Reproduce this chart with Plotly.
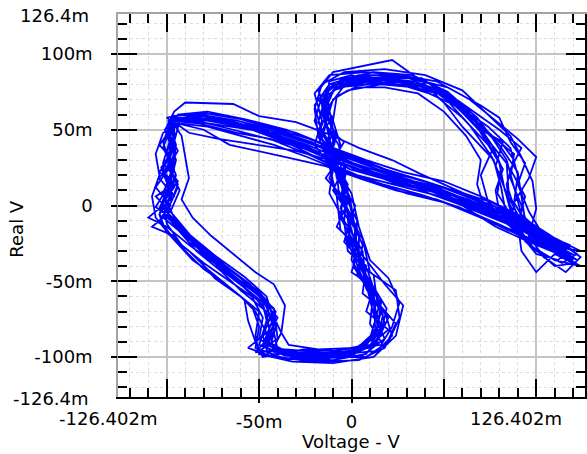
import plotly.graph_objects as go

# ---- data (mV): traced cycles of the X-Y curve ----
loop01 = [(-97,57),(-81,59),(-61,54),(-39,46),(-19,36),(-1,24),(19,17),(41,11),(61,2),(81,-9),(99,-20),(116,-30),(101,-19),(86,-3),(82,15),(76,32),(64,53),(49,73),(29,82),(8,83),(-9,78),(-15,61),(-11,39),(-5,14),(-1,-12),(5,-37),(12,-61),(13,-85),(1,-96),(-19,-99),(-40,-95),(-43,-78),(-47,-61),(-60,-48),(-72,-37),(-85,-23),(-96,-8),(-101,5),(-97,22),(-95,40)]
loop02 = [(-99,55),(-84,56),(-64,50),(-42,43),(-22,33),(-3,22),(17,14),(38,7),(58,-1),(79,-12),(97,-22),(113,-28),(121,-33),(104,-22),(90,-8),(85,10),(84,28),(72,46),(58,66),(40,79),(18,85),(-2,82),(-14,72),(-18,55),(-9,34),(-7,10),(3,-15),(1,-40),(10,-58),(16,-80),(6,-95),(-12,-101),(-34,-97),(-47,-89),(-41,-70),(-50,-57),(-63,-45),(-78,-30),(-92,-15),(-104,-2),(-99,12),(-103,25),(-96,38),(-99,48)]
loop03 = [(-94,60),(-78,62),(-58,57),(-35,50),(-15,40),(4,30),(24,21),(45,14),(66,4),(86,-7),(103,-18),(117,-27),(106,-21),(92,-6),(88,12),(84,30),(76,45),(68,58),(52,75),(33,86),(12,88),(-6,83),(-13,70),(-10,50),(-14,33),(-4,12),(-6,-8),(4,-30),(8,-55),(17,-72),(14,-90),(0,-99),(-24,-100),(-43,-96),(-38,-84),(-45,-66),(-55,-52),(-66,-42),(-82,-27),(-92,-14),(-99,-2),(-94,14),(-100,30),(-96,47)]
loop04 = [(-96,58),(-79,57),(-57,52),(-36,43),(-17,33),(2,25),(23,15),(44,9),(64,-1),(84,-11),(102,-23),(119,-34),(98,-20),(84,-8),(81,12),(77,30),(60,52),(50,68),(38,82),(22,96),(6,92),(-10,88),(-18,76),(-13,60),(-17,42),(-8,24),(-3,2),(-1,-20),(9,-44),(15,-66),(10,-88),(-3,-98),(-22,-103),(-45,-99),(-48,-86),(-44,-74),(-53,-59),(-70,-43),(-86,-24),(-97,-9),(-106,-1),(-98,15),(-95,30),(-99,45)]
loop05 = [(-97,55),(-80,50),(-66,40),(-50,36),(-32,31),(-14,26),(4,18),(24,10),(46,4),(66,-5),(86,-16),(104,-26),(120,-36),(112,-30),(96,-15),(88,2),(90,20),(86,38),(74,52),(62,62),(46,76),(26,82),(6,80),(-12,80),(-20,66),(-16,48),(-8,30),(-12,18),(-2,-4),(6,-26),(3,-46),(14,-60),(18,-78),(9,-94),(-8,-98),(-30,-97),(-50,-96),(-40,-88),(-42,-68),(-55,-54),(-72,-40),(-88,-26),(-100,-14),(-110,-8),(-96,6),(-104,18),(-96,33),(-101,50)]
loop06 = [(-100,52),(-96,62),(-90,68),(-64,67),(-50,59),(-30,55),(-12,47),(4,38),(22,30),(37,21),(54,12),(72,2),(90,-12),(108,-25),(116,-32),(103,-24),(94,-10),(92,6),(90,22),(80,40),(70,52),(56,68),(42,78),(20,80),(0,86),(-12,82),(-14,64),(-9,46),(-11,30),(-1,6),(2,-16),(0,-36),(8,-52),(12,-72),(18,-88),(6,-99),(-16,-101),(-36,-99),(-50,-92),(-46,-76),(-48,-64),(-62,-50),(-76,-34),(-90,-18),(-102,-6),(-97,8),(-101,22),(-94,36),(-98,46)]
loop07 = [(-95,57),(-78,56),(-56,51),(-34,41),(-16,30),(3,20),(25,13),(48,6),(68,-4),(88,-14),(106,-24),(121,-38),(110,-40),(97,-26),(88,-10),(79,8),(81,26),(76,40),(67,56),(56,70),(36,80),(14,83),(-4,79),(-12,66),(-17,50),(-10,36),(-8,18),(2,0),(-3,-20),(7,-42),(10,-60),(20,-74),(13,-92),(-4,-100),(-26,-98),(-44,-93),(-41,-80),(-46,-60),(-58,-47),(-74,-33),(-87,-20),(-98,-4),(-93,10),(-99,26),(-96,44)]
loop08 = [(-98,56),(-82,54),(-62,48),(-44,44),(-24,37),(-6,30),(12,22),(32,15),(52,8),(72,-3),(92,-14),(110,-26),(122,-36),(108,-28),(96,-16),(92,0),(86,18),(88,34),(78,44),(64,60),(52,72),(34,78),(16,80),(-2,76),(-10,70),(-14,54),(-7,40),(-3,22),(-6,4),(4,-18),(4,-40),(12,-56),(10,-78),(16,-90),(4,-96),(-14,-97),(-36,-95),(-52,-97),(-44,-86),(-46,-70),(-60,-56),(-70,-44),(-84,-30),(-94,-16),(-104,-6),(-99,4),(-95,20),(-100,36),(-94,50)]
loop09 = [(-97,59),(-84,60),(-66,56),(-46,49),(-26,40),(-8,29),(10,21),(30,14),(50,7),(70,-2),(90,-13),(106,-22),(118,-29),(100,-22),(90,-6),(84,8),(78,26),(82,42),(70,50),(62,64),(44,80),(24,86),(4,86),(-12,80),(-16,68),(-11,52),(-14,38),(-4,20),(0,-4),(-2,-24),(6,-48),(16,-64),(14,-82),(4,-93),(-18,-98),(-40,-98),(-48,-92),(-40,-74),(-50,-60),(-64,-46),(-80,-30),(-92,-18),(-100,-4),(-94,12),(-99,28),(-95,46)]
loop10 = [(-93,56),(-76,57),(-56,53),(-36,47),(-14,38),(6,28),(26,18),(46,12),(66,2),(86,-8),(104,-20),(114,-24),(122,-32),(114,-38),(100,-30),(90,-16),(86,-2),(84,14),(88,30),(82,40),(72,50),(64,60),(54,70),(38,84),(18,84),(-2,84),(-14,76),(-13,58),(-16,44),(-6,28),(-4,8),(3,-10),(2,-34),(10,-50),(19,-68),(16,-84),(8,-98),(-10,-102),(-30,-101),(-46,-94),(-42,-82),(-44,-66),(-54,-56),(-68,-44),(-82,-30),(-94,-12),(-103,0),(-96,12),(-102,24),(-97,38),(-100,52)]
loop11 = [(-96,57),(-82,55),(-60,51),(-38,47),(-18,39),(1,28),(21,20),(43,12),(63,4),(83,-6),(101,-17),(117,-28),(104,-26),(92,-12),(74,2),(70,20),(76,36),(68,52),(56,66),(42,74),(26,80),(6,82),(-10,76),(-16,60),(-10,44),(-12,28),(-2,10),(-4,-10),(6,-30),(8,-52),(16,-70),(12,-88),(-2,-97),(-22,-99),(-42,-97),(-44,-84),(-48,-66),(-60,-52),(-72,-38),(-88,-24),(-98,-10),(-101,4),(-96,18),(-99,32),(-96,48)]
loop12 = [(-97,56),(-80,57),(-58,52),(-36,44),(-16,34),(2,24),(22,16),(44,10),(64,0),(84,-10),(102,-22),(119,-32),(102,-26),(89,-10),(83,10),(80,28),(72,46),(58,64),(42,78),(22,84),(2,85),(-12,78),(-15,62),(-8,46),(-12,30),(-3,12),(1,-10),(4,-34),(12,-58),(14,-80),(6,-94),(-14,-99),(-36,-97),(-46,-92),(-42,-78),(-48,-62),(-62,-48),(-76,-35),(-90,-20),(-99,-6),(-102,8),(-97,24),(-96,42),(-98,56)]
loop13 = [(-100,58),(-86,61),(-70,60),(-50,54),(-30,48),(-10,38),(8,30),(28,22),(50,16),(70,6),(90,-6),(108,-20),(124,-34),(116,-44),(104,-34),(96,-20),(100,-2),(98,16),(92,32),(86,46),(74,60),(60,76),(40,86),(18,90),(-4,88),(-16,80),(-20,64),(-18,46),(-12,26),(-8,6),(-6,-16),(8,-36),(18,-52),(28,-66),(24,-86),(12,-100),(-10,-104),(-32,-103),(-50,-98),(-52,-86),(-50,-70),(-62,-58),(-72,-48),(-86,-36),(-98,-20),(-106,-8),(-108,6),(-104,20),(-106,34),(-102,48)]
loop14 = [(-92,54),(-78,52),(-60,46),(-42,40),(-24,32),(-8,24),(10,16),(30,8),(50,2),(70,-8),(88,-18),(104,-28),(114,-32),(98,-24),(84,-12),(72,-2),(68,14),(70,30),(62,46),(50,62),(36,74),(18,78),(2,78),(-8,72),(-10,56),(-6,40),(-8,24),(0,8),(4,-14),(10,-36),(20,-48),(26,-64),(22,-80),(16,-92),(2,-94),(-18,-95),(-34,-92),(-38,-84),(-36,-66),(-42,-52),(-52,-44),(-62,-34),(-76,-20),(-86,-8),(-92,4),(-88,18),(-90,32),(-92,46)]
loop15 = [(-98,57),(-84,58),(-64,55),(-44,48),(-24,40),(-4,30),(16,20),(36,12),(56,6),(76,-4),(96,-16),(112,-24),(120,-38),(110,-32),(100,-44),(92,-30),(90,-12),(94,6),(86,24),(92,38),(80,50),(66,62),(52,74),(34,82),(12,84),(-8,80),(-18,70),(-10,58),(-18,46),(-6,32),(-14,18),(-2,2),(-8,-14),(4,-28),(0,-44),(12,-54),(8,-70),(20,-82),(10,-92),(-8,-96),(-26,-95),(-48,-100),(-52,-90),(-56,-76),(-58,-62),(-68,-52),(-80,-42),(-90,-30),(-96,-20),(-108,-14),(-98,-4),(-106,6),(-96,14),(-104,22),(-98,32),(-104,40),(-98,50)]
loop16 = [(-99,56),(-82,60),(-62,56),(-42,50),(-22,42),(-4,32),(14,24),(34,16),(56,10),(76,2),(94,-10),(110,-22),(118,-26),(112,-36),(100,-32),(92,-20),(80,-4),(78,10),(82,24),(74,40),(60,58),(46,72),(30,80),(10,80),(-8,78),(-16,66),(-14,52),(-4,42),(-10,30),(-2,14),(-6,-2),(6,-22),(10,-44),(24,-56),(26,-74),(20,-90),(8,-100),(-12,-100),(-30,-99),(-40,-96),(-50,-88),(-48,-74),(-54,-60),(-66,-50),(-80,-38),(-92,-26),(-100,-12),(-102,2),(-94,16),(-102,28),(-98,44)]
loop17 = [(-97,56),(-88,48),(-72,44),(-52,40),(-30,36),(-12,30),(4,24),(22,18),(42,8),(60,0),(78,-14),(96,-24),(112,-32),(124,-40),(110,-36),(96,-26),(86,-14),(88,2),(96,18),(100,32),(90,44),(78,56),(64,70),(46,82),(26,86),(8,88),(-12,86),(-20,74),(-16,56),(-20,40),(-10,24),(-12,8),(-4,-10),(-2,-30),(12,-46),(14,-64),(24,-78),(18,-94),(4,-102),(-16,-103),(-36,-101),(-52,-94),(-50,-80),(-54,-66),(-64,-56),(-78,-42),(-88,-30),(-100,-18),(-104,-6),(-100,10),(-96,24),(-102,38),(-98,52)]
loop18 = [(-96,59),(-80,61),(-60,57),(-40,50),(-20,43),(-2,34),(18,24),(40,16),(60,8),(80,-2),(98,-14),(114,-24),(124,-30),(114,-28),(104,-20),(96,-4),(90,14),(94,28),(86,42),(80,58),(70,66),(52,78),(32,84),(12,86),(-6,82),(-16,72),(-20,56),(-14,38),(-4,26),(-10,10),(0,-8),(-4,-24),(8,-40),(6,-58),(18,-70),(22,-86),(14,-96),(-4,-98),(-24,-102),(-42,-100),(-56,-94),(-46,-84),(-52,-70),(-60,-60),(-74,-48),(-84,-34),(-96,-22),(-104,-10),(-98,0),(-106,12),(-98,26),(-102,42),(-97,57)]

x_major = [-100, -50, 0, 50, 100]
x_major_text = ["", "-50m", "0", "", ""]
x_labeled = [-50, 0]
y_major = [-100, -50, 0, 50, 100]
y_major_text = ["-100m", "-50m", "0", "50m", "100m"]
axis_limit = 126.402
x_edge_labels = ["-126.402m", "126.402m"]
y_edge_labels = ["126.4m", "-126.4m"]
x_title = "Voltage - V"
y_title = "Real V"

loops = [loop01, loop02, loop03, loop04, loop05, loop06, loop07, loop08, loop09,
         loop10, loop11, loop12, loop13, loop14, loop15, loop16, loop17, loop18]
xs = [p[0] for lp in loops for p in lp]
ys = [p[1] for lp in loops for p in lp]

FONT = dict(family="DejaVu Sans", size=18, color="black")
GRAY_LINE = "#a8a69c"

fig = go.Figure()
fig.add_trace(go.Scatter(x=xs, y=ys, mode="lines",
                         line=dict(color="#0000ff", width=1.8),
                         hoverinfo="skip", showlegend=False))
# invisible helpers so the overlay axes get drawn
for xa, ya in [("x2", "y2"), ("x3", "y3")]:
    fig.add_trace(go.Scatter(x=[0], y=[0], xaxis=xa, yaxis=ya, mode="markers",
                             marker=dict(opacity=0), showlegend=False, hoverinfo="skip"))

rng = [-axis_limit, axis_limit]
minor_grid = dict(tick0=0, dtick=10, ticks="inside", ticklen=9, tickwidth=1.5,
                  tickcolor="black", showgrid=True, gridcolor="#dcdcdc",
                  griddash="dot", gridwidth=1.2)
minor_nogrid = dict(tick0=0, dtick=10, ticks="inside", ticklen=9, tickwidth=1.5,
                    tickcolor="black", showgrid=False)

fig.update_layout(
    width=587, height=454,
    margin=dict(l=118, r=2, t=14, b=57, pad=0),
    paper_bgcolor="white", plot_bgcolor="white",
    showlegend=False,
    xaxis=dict(range=rng, showline=True, linecolor="black", linewidth=1.5,
               ticks="inside", ticklen=18, tickwidth=1.5, tickcolor="black",
               tickmode="array", tickvals=x_major, ticktext=x_major_text,
               tickfont=FONT, ticklabelstandoff=8,
               showgrid=True, gridcolor="#c4c4c4", gridwidth=1.5,
               zeroline=False, minor=minor_grid),
    xaxis2=dict(range=rng, overlaying="x", side="top", anchor="y",
                showline=True, linecolor=GRAY_LINE, linewidth=1.5,
                ticks="inside", ticklen=18, tickwidth=1.5, tickcolor="black",
                tickmode="array", tickvals=x_major, showticklabels=False,
                showgrid=False, zeroline=False, minor=minor_nogrid),
    xaxis3=dict(range=rng, overlaying="x", side="bottom", anchor="y",
                showline=False, ticks="outside", ticklen=5, tickwidth=1.5,
                tickcolor="black", tickmode="array", tickvals=x_labeled,
                showticklabels=False, showgrid=False, zeroline=False),
    yaxis=dict(range=rng, showline=True, linecolor=GRAY_LINE, linewidth=1.5,
               ticks="inside", ticklen=19, tickwidth=1.5, tickcolor="black",
               tickmode="array", tickvals=y_major, ticktext=y_major_text,
               tickfont=FONT, ticklabelstandoff=20,
               showgrid=True, gridcolor="#c4c4c4", gridwidth=1.5,
               zeroline=False, minor=minor_grid),
    yaxis2=dict(range=rng, overlaying="y", side="right", anchor="x",
                showline=True, linecolor="black", linewidth=1.5,
                ticks="inside", ticklen=19, tickwidth=1.5, tickcolor="black",
                tickmode="array", tickvals=y_major, showticklabels=False,
                showgrid=False, zeroline=False, minor=minor_nogrid),
    yaxis3=dict(range=rng, overlaying="y", side="left", anchor="x",
                showline=False, ticks="outside", ticklen=6, tickwidth=1.5,
                tickcolor="black", tickmode="array", tickvals=y_major,
                showticklabels=False, showgrid=False, zeroline=False),
)

ann = [
    dict(text=y_edge_labels[0], x=-0.058, y=0.995, xanchor="right", yanchor="middle"),
    dict(text=y_edge_labels[1], x=-0.058, y=-0.003, xanchor="right", yanchor="middle"),
    dict(text=x_edge_labels[0], x=-0.021, y=-0.057, xanchor="center", yanchor="middle"),
    dict(text=x_edge_labels[1], x=0.853, y=-0.057, xanchor="center", yanchor="middle"),
    dict(text=x_title, x=0.499, y=-0.115, xanchor="center", yanchor="middle"),
    dict(text=y_title, x=-0.218, y=0.44, xanchor="center", yanchor="middle", textangle=-90),
]
for a in ann:
    fig.add_annotation(xref="paper", yref="paper", showarrow=False, font=FONT, **a)

fig.write_html("out.html",
               config={"displayModeBar": False},
               post_script="document.body.style.margin='0px';"
                           "document.body.style.overflow='hidden';")
